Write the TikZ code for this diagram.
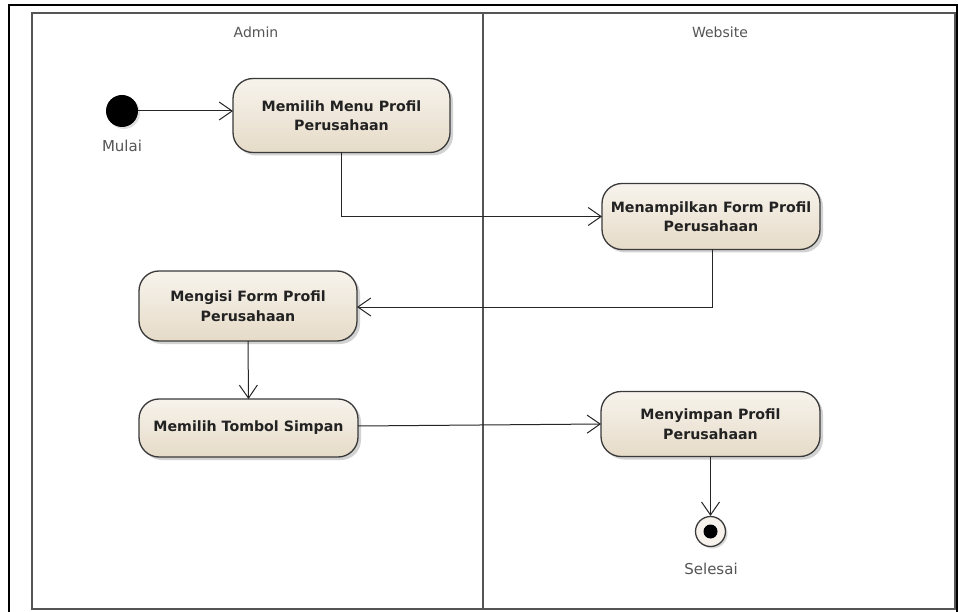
\documentclass[tikz,border=0pt]{standalone}
\usepackage{fontspec}
\setmainfont{DejaVu Sans}
\usetikzlibrary{arrows.meta,shadows,calc}
\definecolor{edgegray}{HTML}{3A3A3A}
\definecolor{lanegray}{HTML}{555555}
\definecolor{nodetop}{HTML}{F7F3EC}
\definecolor{nodebot}{HTML}{E6DBC8}
\definecolor{txt}{HTML}{222222}
\tikzset{
  act/.style={draw=edgegray, line width=1.3pt, rounded corners=20pt,
    top color=nodetop, bottom color=nodebot, text=txt,
    font=\bfseries\fontsize{14.2}{19.5}\selectfont, align=center,
    inner sep=0pt, outer sep=0pt,
    drop shadow={shadow xshift=3pt, shadow yshift=-3pt, opacity=0.35, fill=gray}},
  flow/.style={draw=black!85, line width=1pt, -{Straight Barb[length=13pt,width=18pt,line width=1pt]}},
  lanelbl/.style={font=\fontsize{14}{15}\selectfont, text=lanegray},
  statelbl/.style={font=\fontsize{15}{16}\selectfont, text=lanegray},
}
\begin{document}
\begin{tikzpicture}[x=1pt,y=-1pt]
\useasboundingbox (0,0) rectangle (958,612);
\fill[white] (0,0) rectangle (958,612);
% outer frame
\draw[black, line width=2.2pt] (9,612) -- (9,5) -- (957.5,5) -- (957.5,612);
% swimlanes
\draw[lanegray, line width=1.4pt] (32,13) rectangle (955,609);
\draw[lanegray, line width=1.8pt] (483,13) -- (483,609);
\node[lanelbl] (admin) at (256,32) {Admin};
\node[lanelbl] (website) at (720,32) {Website};
% start
\node[circle, fill=black, minimum size=32pt, inner sep=0pt,
  drop shadow={shadow xshift=2pt, shadow yshift=-2pt, opacity=0.25, fill=gray}] (start) at (122,111) {};
\node[statelbl] (mulai) at (122,146) {Mulai};
% activities
\node[act, minimum width=217pt, minimum height=74pt] (n1) at (341.5,115.5) {Memilih Menu Profil\\Perusahaan};
\node[act, minimum width=218pt, minimum height=66pt] (n2) at (711,216.5) {Menampilkan Form Profil\\Perusahaan};
\node[act, minimum width=218pt, minimum height=70pt] (n3) at (248,306) {Mengisi Form Profil\\Perusahaan};
\node[act, minimum width=219pt, minimum height=58pt] (n4) at (248.5,428) {Memilih Tombol Simpan};
\node[act, minimum width=219pt, minimum height=65pt] (n5) at (710.5,424) {Menyimpan Profil\\Perusahaan};
% end
\node[circle, draw=edgegray, line width=1.3pt, fill=nodetop, minimum size=30pt, inner sep=0pt,
  drop shadow={shadow xshift=2pt, shadow yshift=-2pt, opacity=0.3, fill=gray}] (end) at (710.5,531.5) {};
\node[circle, fill=black, minimum size=14pt, inner sep=0pt] (endin) at (end.center) {};
\node[statelbl] (selesai) at (711,569) {Selesai};
% flows
\draw[flow] (start) -- (n1.west |- start);
\draw[flow] (n1.south) |- (n2.west);
\draw[flow] ($(n2.south)+(1,0)$) |- ($(n3.east)+(0,1)$);
\draw[flow] (n3.south) -- (n4.north);
\draw[flow] ($(n4.east)+(0,-2)$) -- (n5.west);
\draw[flow] (n5.south) -- (end.north);
\end{tikzpicture}
\end{document}
